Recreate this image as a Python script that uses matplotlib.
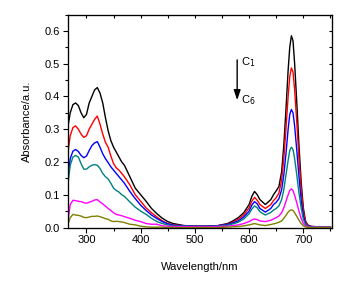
import matplotlib
matplotlib.use('Agg')
import matplotlib.pyplot as plt
from matplotlib.ticker import MultipleLocator, FormatStrFormatter

plt.rcParams['font.family'] = ['Liberation Sans', 'DejaVu Sans']

wl = [265, 270, 275, 280, 285, 290, 295, 300, 305, 310, 315, 320, 325, 330, 335,
      340, 345, 350, 355, 360, 365, 370, 380, 390, 400, 410, 420, 430, 440, 450,
      460, 480, 500, 520, 540, 560, 570, 580, 590, 600, 605, 610, 615, 620, 630,
      640, 645, 650, 655, 660, 664, 668, 672, 675, 678, 681, 684, 688, 692, 696,
      700, 704, 708, 715, 730, 750]

c1 = [0.30, 0.35, 0.375, 0.38, 0.372, 0.35, 0.335, 0.345, 0.38, 0.40, 0.42, 0.427, 0.41, 0.38, 0.335,
      0.295, 0.265, 0.245, 0.23, 0.215, 0.20, 0.19, 0.155, 0.12, 0.10, 0.08, 0.058, 0.042, 0.028, 0.018,
      0.012, 0.006, 0.004, 0.004, 0.005, 0.012, 0.02, 0.03, 0.045, 0.07, 0.095, 0.11, 0.10, 0.085, 0.07,
      0.085, 0.10, 0.112, 0.125, 0.17, 0.25, 0.36, 0.48, 0.55, 0.585, 0.57, 0.50, 0.38, 0.25, 0.14,
      0.06, 0.02, 0.008, 0.003, 0.002, 0.002]

c2 = [0.22, 0.28, 0.305, 0.31, 0.30, 0.285, 0.275, 0.28, 0.30, 0.315, 0.33, 0.34, 0.315, 0.285, 0.26,
      0.245, 0.218, 0.195, 0.182, 0.175, 0.165, 0.155, 0.13, 0.10, 0.08, 0.06, 0.045, 0.032, 0.02, 0.012,
      0.008, 0.005, 0.004, 0.004, 0.005, 0.01, 0.016, 0.025, 0.038, 0.06, 0.08, 0.092, 0.083, 0.07, 0.058,
      0.07, 0.082, 0.091, 0.105, 0.145, 0.21, 0.30, 0.40, 0.46, 0.487, 0.475, 0.42, 0.32, 0.21, 0.12,
      0.05, 0.018, 0.007, 0.003, 0.002, 0.002]

c3 = [0.14, 0.21, 0.233, 0.238, 0.232, 0.22, 0.213, 0.218, 0.235, 0.25, 0.258, 0.262, 0.245, 0.225, 0.21,
      0.198, 0.185, 0.175, 0.165, 0.155, 0.145, 0.135, 0.11, 0.088, 0.068, 0.052, 0.038, 0.027, 0.018, 0.011,
      0.007, 0.005, 0.004, 0.004, 0.005, 0.009, 0.014, 0.02, 0.032, 0.05, 0.068, 0.079, 0.072, 0.058, 0.047,
      0.058, 0.07, 0.077, 0.088, 0.115, 0.16, 0.225, 0.30, 0.345, 0.36, 0.35, 0.31, 0.235, 0.155, 0.085,
      0.035, 0.012, 0.005, 0.003, 0.002, 0.002]

c4 = [0.12, 0.19, 0.215, 0.22, 0.215, 0.195, 0.178, 0.178, 0.185, 0.19, 0.192, 0.19, 0.18, 0.165, 0.155,
      0.148, 0.135, 0.12, 0.113, 0.108, 0.10, 0.095, 0.078, 0.062, 0.05, 0.04, 0.028, 0.018, 0.012, 0.008,
      0.005, 0.004, 0.003, 0.003, 0.004, 0.007, 0.011, 0.016, 0.026, 0.042, 0.056, 0.066, 0.06, 0.048, 0.038,
      0.046, 0.053, 0.058, 0.066, 0.085, 0.115, 0.16, 0.205, 0.235, 0.245, 0.238, 0.21, 0.16, 0.105, 0.06,
      0.025, 0.01, 0.004, 0.002, 0.002, 0.002]

c5 = [0.01, 0.07, 0.083, 0.082, 0.08, 0.079, 0.076, 0.074, 0.077, 0.08, 0.084, 0.085, 0.078, 0.072, 0.065,
      0.058, 0.052, 0.045, 0.04, 0.038, 0.036, 0.033, 0.028, 0.022, 0.018, 0.012, 0.01, 0.01, 0.005, 0.004,
      0.003, 0.003, 0.002, 0.002, 0.003, 0.004, 0.006, 0.008, 0.012, 0.018, 0.023, 0.026, 0.024, 0.02, 0.018,
      0.022, 0.026, 0.03, 0.035, 0.045, 0.06, 0.08, 0.10, 0.113, 0.118, 0.113, 0.098, 0.075, 0.05, 0.028,
      0.012, 0.005, 0.002, 0.001, 0.001, 0.001]

c6 = [0.005, 0.03, 0.04, 0.038, 0.037, 0.035, 0.031, 0.03, 0.032, 0.034, 0.034, 0.035, 0.033, 0.03, 0.027,
      0.025, 0.02, 0.018, 0.019, 0.018, 0.017, 0.015, 0.01, 0.008, 0.004, 0.002, 0.001, 0.001, 0.001, 0.0,
      0.0, 0.0, 0.0, 0.0, 0.0, 0.001, 0.002, 0.003, 0.005, 0.008, 0.01, 0.012, 0.01, 0.008, 0.006,
      0.009, 0.011, 0.013, 0.016, 0.02, 0.028, 0.037, 0.047, 0.052, 0.054, 0.052, 0.045, 0.034, 0.022, 0.012,
      0.005, 0.002, 0.001, 0.0, 0.0, 0.0]

series = [c1, c2, c3, c4, c5, c6]
colors = ['black', 'red', 'blue', '#008080', '#ff00ff', '#808000']

fig = plt.figure(figsize=(3.61, 2.86), dpi=100)
ax = fig.add_axes([67.5 / 361, 58.5 / 286, 264 / 361, 213 / 286])

for s, c in zip(series, colors):
    ax.plot(wl, s, color=c, lw=1.0)

ax.set_xlim(265, 752)
ax.set_ylim(0, 0.65)
ax.xaxis.set_major_locator(MultipleLocator(100))
ax.xaxis.set_minor_locator(MultipleLocator(50))
ax.yaxis.set_major_locator(MultipleLocator(0.1))
ax.yaxis.set_minor_locator(MultipleLocator(0.05))
ax.yaxis.set_major_formatter(FormatStrFormatter('%.1f'))
ax.tick_params(which='both', direction='out', labelsize=8, width=0.8)
ax.tick_params(which='major', length=3.5, pad=2)
ax.tick_params(which='minor', length=2.5)
for sp in ax.spines.values():
    sp.set_color('black')
    sp.set_zorder(5)

# inward ticks on top and right, as in the original
tw = ax.twiny()
tw.set_xlim(ax.get_xlim())
tw.xaxis.set_major_locator(MultipleLocator(50))
tw.tick_params(direction='in', length=2.5, width=0.8, labeltop=False)
ty = ax.twinx()
ty.set_ylim(ax.get_ylim())
ty.yaxis.set_major_locator(MultipleLocator(0.05))
ty.tick_params(direction='in', length=2.5, width=0.8, labelright=False)

ax.set_xlabel('Wavelength/nm', fontsize=8, labelpad=12)
ax.set_ylabel('Absorbance/a.u.', fontsize=8, labelpad=9)

ax.annotate('', xy=(578, 0.38), xytext=(578, 0.52),
            arrowprops=dict(arrowstyle='-|>,head_length=0.6,head_width=0.2', color='black', lw=1.0))
ax.text(585, 0.505, 'C$_1$', fontsize=8, va='center')
ax.text(585, 0.39, 'C$_6$', fontsize=8, va='center')

fig.savefig('out.png', dpi=100)
